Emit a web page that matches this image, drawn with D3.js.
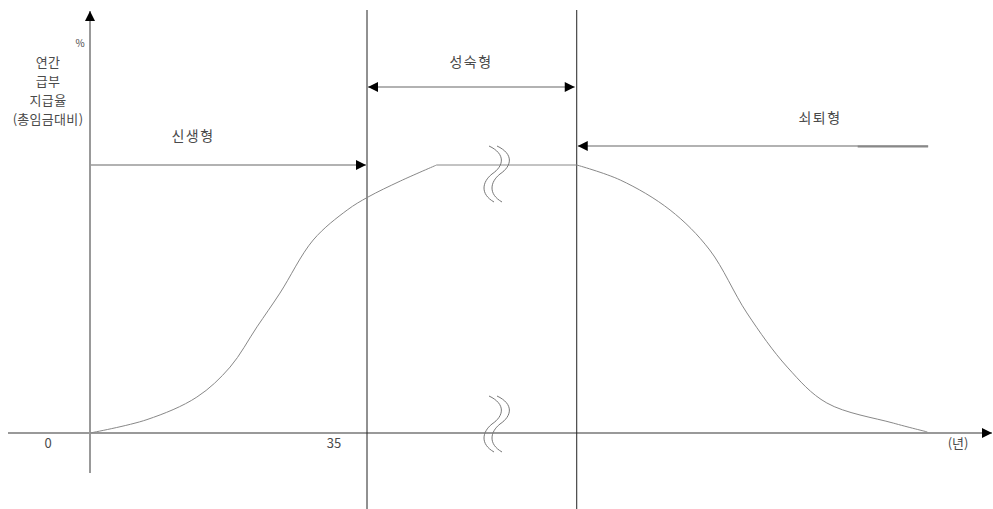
<!DOCTYPE html>
<html><head><meta charset="utf-8">
<script src="https://cdn.jsdelivr.net/npm/d3@7"></script>
<style>body{margin:0;background:#fff}svg{display:block}text{font-family:"Noto Sans CJK KR","Noto Sans",sans-serif;fill:#4a4a4a}</style>
</head><body>
<script>
// curve (x in "year-like" units, y in % of plateau)
const curveX = [0, 7.2, 13.5, 17.7, 21.1, 24.0, 28.2, 32.5, 35.1, 39.2, 43.8, 61.5, 67.0, 73.3, 78.3, 83.0, 88.1, 93.1, 101.5, 105.8];
const curveY = [0, 5, 13.4, 24.6, 39.6, 52.2, 72, 83.2, 88, 94, 100, 100, 94.4, 83.2, 68.3, 44.8, 24.6, 11.2, 3.7, 0.4];
const plateauStart = 43.8, plateauEnd = 61.5;
const phaseBounds = [35, 61.5];
const phaseLabels = ["신생형", "성숙형", "쇠퇴형"];
const tickValues = [0, 35];
const tickLabels = ["0", "35"];
const xUnitLabel = "(년)";
const yUnitLabel = "%";
const yTitleLines = ["연간", "급부", "지급율", "(총임금대비)"];
const breakX = 51.3;

const W = 993, H = 509;
const x = d3.scaleLinear().domain([0, 35]).range([90, 367]);
const y = d3.scaleLinear().domain([0, 100]).range([433, 165]);

const svg = d3.select("body").append("svg").attr("width", W).attr("height", H);
const defs = svg.append("defs");
function marker(id, orient) {
  defs.append("marker").attr("id", id).attr("viewBox", "0 0 10 10")
    .attr("refX", 10).attr("refY", 5).attr("markerWidth", 12).attr("markerHeight", 10)
    .attr("markerUnits", "userSpaceOnUse").attr("orient", orient)
    .append("path").attr("d", "M0,0 L10,5 L0,10 Z").attr("fill", "#000");
}
marker("arr", "auto");
marker("arrS", "auto-start-reverse");

// axes
svg.append("line").attr("x1", 8).attr("x2", 992).attr("y1", y(0)).attr("y2", y(0))
  .attr("stroke", "#999").attr("stroke-width", 2).attr("marker-end", "url(#arr)");
svg.append("line").attr("x1", x(0)).attr("x2", x(0)).attr("y1", 473).attr("y2", 11)
  .attr("stroke", "#999").attr("stroke-width", 2).attr("marker-end", "url(#arr)");

// phase boundaries
phaseBounds.forEach(b => {
  svg.append("line").attr("x1", x(b)).attr("x2", x(b)).attr("y1", 10).attr("y2", H)
    .attr("stroke", "#222").attr("stroke-width", 1);
});

// curve: rising part, plateau, falling part
const pts = curveX.map((v, i) => [v, curveY[i]]);
const rise = pts.filter(d => d[0] <= plateauStart);
const flat = pts.filter(d => d[0] >= plateauStart && d[0] <= plateauEnd);
const fall = pts.filter(d => d[0] >= plateauEnd);
const smooth = d3.line().x(d => x(d[0])).y(d => y(d[1])).curve(d3.curveCatmullRom.alpha(0.5));
const straight = d3.line().x(d => x(d[0])).y(d => y(d[1]));
[[rise, smooth], [flat, straight], [fall, smooth]].forEach(([seg, gen]) => {
  svg.append("path").datum(seg).attr("d", gen)
    .attr("fill", "none").attr("stroke", "#888").attr("stroke-width", 1);
});

// phase arrows
const aStroke = "#999";
svg.append("line").attr("x1", x(0)).attr("x2", x(phaseBounds[0]) - 1).attr("y1", y(100)).attr("y2", y(100))
  .attr("stroke", aStroke).attr("stroke-width", 1.3).attr("marker-end", "url(#arr)");
svg.append("line").attr("x1", x(phaseBounds[0]) + 1).attr("x2", x(phaseBounds[1]) - 2).attr("y1", 87).attr("y2", 87)
  .attr("stroke", aStroke).attr("stroke-width", 1.5)
  .attr("marker-start", "url(#arrS)").attr("marker-end", "url(#arr)");
svg.append("line").attr("x1", x(105.9)).attr("x2", x(phaseBounds[1]) + 1).attr("y1", 146).attr("y2", 146)
  .attr("stroke", aStroke).attr("stroke-width", 1.3).attr("marker-end", "url(#arr)");
svg.append("line").attr("x1", x(97)).attr("x2", x(105.9)).attr("y1", 146.5).attr("y2", 146.5)
  .attr("stroke", "#888").attr("stroke-width", 2);

// break marks
function breakMark(cx, cy) {
  const g = svg.append("g");
  [0, 8].forEach(off => {
    const p = d3.path();
    p.moveTo(cx - 3 + off, cy - 28);
    p.bezierCurveTo(cx + 14 + off, cy - 20, cx + 12 + off, cy - 8, cx + off, cy);
    p.bezierCurveTo(cx - 10 + off, cy + 8, cx - 12 + off, cy + 20, cx + 2 + off, cy + 28);
    g.append("path").attr("d", p.toString()).attr("fill", "none").attr("stroke", "#777").attr("stroke-width", 1);
  });
}
breakMark(x(breakX) - 4, y(100) + 9);
breakMark(x(breakX) - 4, y(0) - 9);

// texts
svg.append("text").attr("x", 80).attr("y", 47).attr("font-size", 10).attr("text-anchor", "middle").text(yUnitLabel);
yTitleLines.forEach((t, i) => {
  svg.append("text").attr("x", 48).attr("y", 67 + i * 19).attr("font-size", 13)
    .attr("text-anchor", "middle").attr("letter-spacing", 0.3).text(t);
});
const labelPos = [[193, 141], [471, 67], [820, 123]];
phaseLabels.forEach((t, i) => {
  svg.append("text").attr("x", labelPos[i][0]).attr("y", labelPos[i][1]).attr("font-size", 14)
    .attr("text-anchor", "middle").attr("letter-spacing", 1.5).text(t);
});
tickValues.forEach((v, i) => {
  svg.append("text").attr("x", x(v) - (i === 0 ? 42 : 33)).attr("y", 448).attr("font-size", 13)
    .attr("text-anchor", "middle").text(tickLabels[i]);
});
svg.append("text").attr("x", 958).attr("y", 448).attr("font-size", 13).attr("text-anchor", "middle").text(xUnitLabel);
</script>
</body></html>
